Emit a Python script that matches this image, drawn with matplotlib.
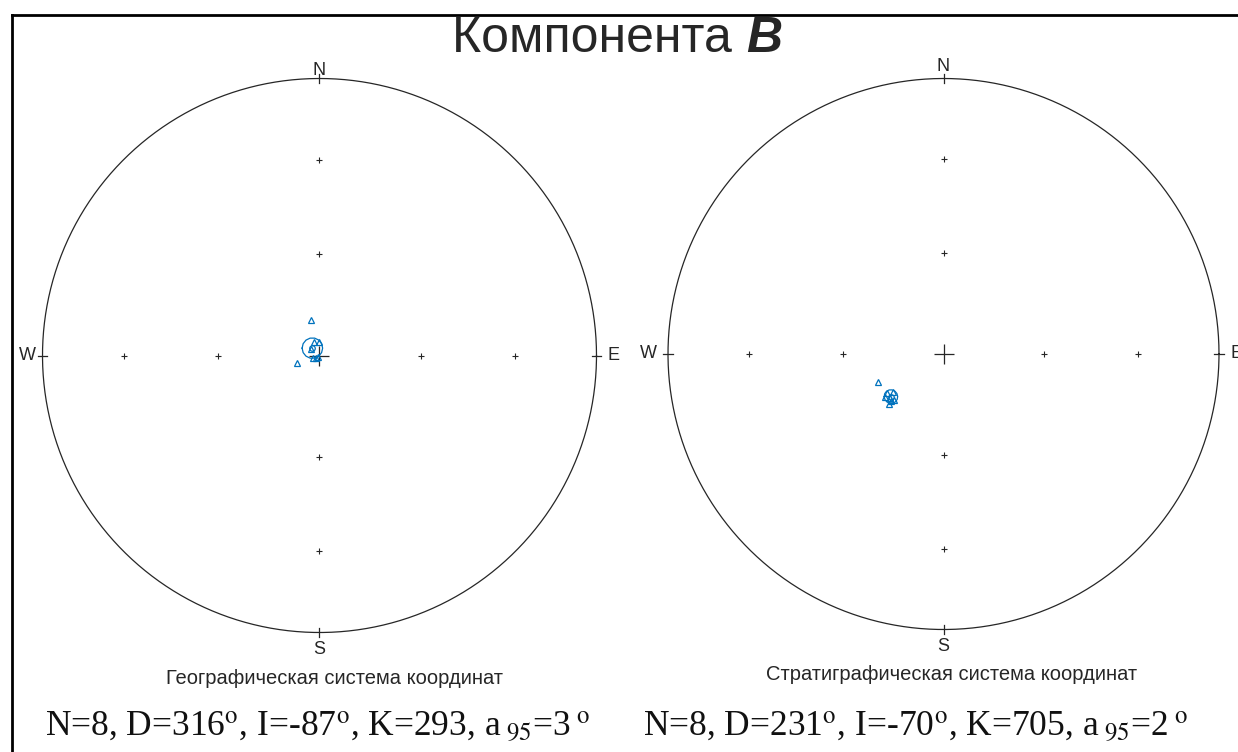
import numpy as np
import matplotlib
matplotlib.use("Agg")
import matplotlib.pyplot as plt
from matplotlib.lines import Line2D

plt.rcParams['mathtext.fontset'] = 'stix'

# ---- data ----
title_main = "Компонента "
title_bold = "B"
labels_dir = ["N", "E", "S", "W"]

geo_dec = [346.5, 251.6, 337.8, 357.9, 307.4, 249.0, 234.5, 225.0]
geo_inc = [-79.3, -83.1, -85.7, -86.0, -86.9, -88.0, -88.7, -89.4]
geo_mean = (316.0, -87.0)
geo_a95 = 3.0
geo_title = "Географическая система координат"
geo_stats = r"N=8, D=316$^{\mathrm{o}}$, I=-87$^{\mathrm{o}}$, K=293, a$_{\ 95}$=3$^{\ \mathrm{o}}$"

str_dec = [247.0, 235.1, 232.8, 233.4, 230.3, 226.8, 227.2, 227.9]
str_inc = [-68.8, -69.8, -71.4, -68.6, -69.6, -70.1, -68.2, -69.2]
str_mean = (231.0, -70.0)
str_a95 = 2.0
str_title = "Стратиграфическая система координат"
str_stats = r"N=8, D=231$^{\mathrm{o}}$, I=-70$^{\mathrm{o}}$, K=705, a$_{\ 95}$=2$^{\ \mathrm{o}}$"

tick_incs = [60, 30]

BLUE = "#0072BD"
GRAY = "#262626"


def proj(dec, inc):
    dec = np.radians(np.asarray(dec, dtype=float))
    col = np.radians(90.0 - np.abs(np.asarray(inc, dtype=float)))
    r = np.sqrt(2.0) * np.sin(col / 2.0)
    return r * np.sin(dec), r * np.cos(dec)


def a95_circle(dec, inc, a95, n=15):
    d, i = np.radians(dec), np.radians(inc)
    m = np.array([np.cos(i) * np.cos(d), np.cos(i) * np.sin(d), np.sin(i)])
    ref = np.array([0, 0, 1.0]) if abs(m[2]) < 0.9 else np.array([1.0, 0, 0])
    u = np.cross(m, ref); u /= np.linalg.norm(u)
    v = np.cross(m, u)
    t = np.linspace(0, 2 * np.pi, n)
    a = np.radians(a95)
    pts = (np.cos(a) * m[:, None] + np.sin(a) * (np.cos(t) * u[:, None] + np.sin(t) * v[:, None]))
    decs = np.degrees(np.arctan2(pts[1], pts[0]))
    incs = np.degrees(np.arcsin(np.clip(pts[2], -1, 1)))
    return proj(decs, incs)


def stereonet(ax, decs, incs, mean, a95, subtitle, r_px, offs, sub_xy):
    ax.set_xlim(-1, 1)
    ax.set_ylim(-1, 1)
    ax.set_aspect('equal')
    ax.axis('off')
    t = np.linspace(0, 2 * np.pi, 400)
    ax.plot(np.cos(t), np.sin(t), color=GRAY, lw=0.9, clip_on=False)
    # edge ticks
    e = 0.018
    ax.plot([0, 0], [1 - e, 1 + e], color=GRAY, lw=0.9, clip_on=False)
    ax.plot([0, 0], [-1 - e, -1 + e], color=GRAY, lw=0.9, clip_on=False)
    ax.plot([1 - e, 1 + e], [0, 0], color=GRAY, lw=0.9, clip_on=False)
    ax.plot([-1 - e, -1 + e], [0, 0], color=GRAY, lw=0.9, clip_on=False)
    # centre cross
    ax.plot(0, 0, marker='+', ms=14, mew=0.9, color=GRAY, ls='none')
    # inclination ticks
    for ti in tick_incs:
        for dd in [0, 90, 180, 270]:
            x, y = proj(dd, ti)
            ax.plot(x, y, marker='+', ms=5, mew=0.8, color=GRAY, ls='none')
    # labels (offsets in px from the circle)
    fs = 13
    oN, oE, oS, oW = [o / r_px for o in offs]
    ax.text(0, 1 + oN, labels_dir[0], ha='center', va='center', fontsize=fs,
            family='Liberation Sans', color=GRAY, clip_on=False)
    ax.text(1 + oE, 0, labels_dir[1], ha='center', va='center', fontsize=fs,
            family='Liberation Sans', color=GRAY, clip_on=False)
    ax.text(0, -1 - oS, labels_dir[2], ha='center', va='center', fontsize=fs,
            family='Liberation Sans', color=GRAY, clip_on=False)
    ax.text(-1 - oW, 0, labels_dir[3], ha='center', va='center', fontsize=fs,
            family='Liberation Sans', color=GRAY, clip_on=False)
    ax.text(sub_xy[0], sub_xy[1], subtitle, ha='center', va='center', fontsize=14.5,
            family='Liberation Sans', color=GRAY, transform=fig.transFigure)
    # data
    x, y = proj(decs, incs)
    ax.plot(x, y, ls='none', marker='^', ms=5, mfc='none', mec=BLUE, mew=0.9)
    cx, cy = a95_circle(mean[0], mean[1], a95)
    ax.plot(cx, cy, color=BLUE, lw=0.9)
    mx, my = proj(mean[0], mean[1])
    ax.plot(mx, my, ls='none', marker='o', ms=4, mfc='none', mec=BLUE, mew=0.9)


W, H = 1238, 752
fig = plt.figure(figsize=(W / 100, H / 100), dpi=100)

r1, c1 = 277.0, (319.5, 355.5)
ax1 = fig.add_axes([(c1[0] - r1) / W, (H - c1[1] - r1) / H, 2 * r1 / W, 2 * r1 / H])
r2, c2 = 275.5, (943.5, 354.0)
ax2 = fig.add_axes([(c2[0] - r2) / W, (H - c2[1] - r2) / H, 2 * r2 / W, 2 * r2 / H])

stereonet(ax1, geo_dec, geo_inc, geo_mean, geo_a95, geo_title, r1,
          (8, 17, 17, 15), (334 / W, 1 - 678 / H))
stereonet(ax2, str_dec, str_inc, str_mean, str_a95, str_title, r2,
          (12, 17, 17, 20), (952 / W, 1 - 675 / H))

# frame
fig.add_artist(Line2D([12 / W, 1.0], [1 - 15 / H, 1 - 15 / H], transform=fig.transFigure,
                      color='black', lw=2))
fig.add_artist(Line2D([12 / W, 12 / W], [0, 1 - 15 / H], transform=fig.transFigure,
                      color='black', lw=2))

# title: regular part + bold italic B
renderer = fig.canvas.get_renderer()
t1 = fig.text(0, 1 - 39 / H, title_main, ha='left', va='center',
              fontsize=36, family='Liberation Sans', color=GRAY)
t2 = fig.text(0, 1 - 39 / H, title_bold, ha='left', va='center',
              fontsize=36, family='Liberation Sans', weight='bold', style='italic', color=GRAY)
w1 = t1.get_window_extent(renderer).width
w2 = t2.get_window_extent(renderer).width
x0 = 617 - (w1 + w2) / 2
t1.set_x(x0 / W)
t2.set_x((x0 + w1) / W)

# stats
fig.text(45 / W, 1 - 727 / H, geo_stats, ha='left', va='center', fontsize=25.5,
         family='Liberation Serif', color='#111111')
fig.text(643 / W, 1 - 727 / H, str_stats, ha='left', va='center', fontsize=25.5,
         family='Liberation Serif', color='#111111')

fig.savefig("out.png", dpi=100)
